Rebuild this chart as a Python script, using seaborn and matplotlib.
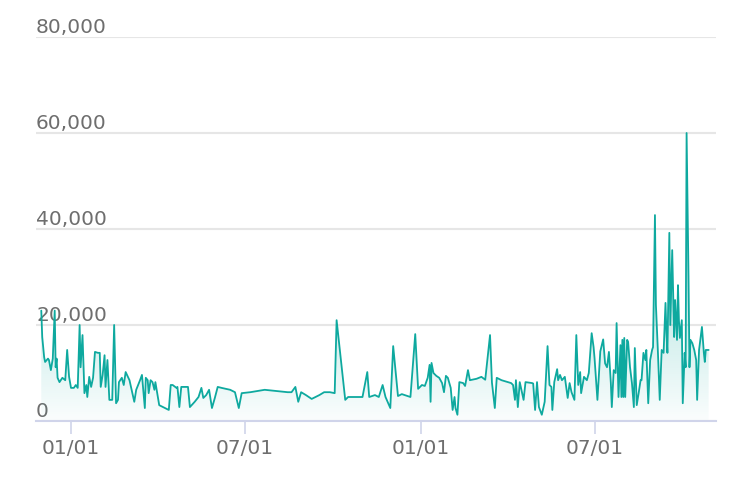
import numpy as np
import pandas as pd
import seaborn as sns
import matplotlib.pyplot as plt
import matplotlib.dates as mdates
from matplotlib.colors import to_rgb
from matplotlib.ticker import FuncFormatter

# daily values
dates = [
    "2020-12-01", "2020-12-02", "2020-12-04", "2020-12-05", "2020-12-08", "2020-12-09",
    "2020-12-11", "2020-12-13", "2020-12-15", "2020-12-16", "2020-12-17", "2020-12-18",
    "2020-12-20", "2020-12-23", "2020-12-26", "2020-12-28", "2020-12-30", "2021-01-01",
    "2021-01-04", "2021-01-06", "2021-01-08", "2021-01-10", "2021-01-11", "2021-01-13",
    "2021-01-15", "2021-01-17", "2021-01-18", "2021-01-20", "2021-01-22", "2021-01-24",
    "2021-01-26", "2021-01-29", "2021-01-31", "2021-02-01", "2021-02-03", "2021-02-05",
    "2021-02-06", "2021-02-08", "2021-02-10", "2021-02-13", "2021-02-15", "2021-02-17",
    "2021-02-19", "2021-02-20", "2021-02-23", "2021-02-25", "2021-02-27", "2021-03-03",
    "2021-03-06", "2021-03-08", "2021-03-10", "2021-03-14", "2021-03-16", "2021-03-19",
    "2021-03-20", "2021-03-22", "2021-03-23", "2021-03-25", "2021-03-27", "2021-03-29",
    "2021-03-30", "2021-04-03", "2021-04-09", "2021-04-13", "2021-04-15", "2021-04-17",
    "2021-04-21", "2021-04-22", "2021-04-24", "2021-04-26", "2021-04-29", "2021-05-03",
    "2021-05-05", "2021-05-10", "2021-05-14", "2021-05-17", "2021-05-19", "2021-05-22",
    "2021-05-25", "2021-05-28", "2021-05-31", "2021-06-03", "2021-06-07", "2021-06-16",
    "2021-06-21", "2021-06-25", "2021-06-28", "2021-07-07", "2021-07-22", "2021-08-15",
    "2021-08-19", "2021-08-23", "2021-08-26", "2021-08-29", "2021-09-03", "2021-09-09",
    "2021-09-17", "2021-09-22", "2021-09-28", "2021-10-03", "2021-10-05", "2021-10-14",
    "2021-10-17", "2021-11-01", "2021-11-06", "2021-11-08", "2021-11-14", "2021-11-18",
    "2021-11-22", "2021-11-25", "2021-11-30", "2021-12-03", "2021-12-08", "2021-12-12",
    "2021-12-21", "2021-12-26", "2021-12-29", "2022-01-02", "2022-01-05", "2022-01-08",
    "2022-01-10", "2022-01-11", "2022-01-12", "2022-01-14", "2022-01-17", "2022-01-20",
    "2022-01-23", "2022-01-25", "2022-01-27", "2022-01-29", "2022-02-01", "2022-02-03",
    "2022-02-05", "2022-02-06", "2022-02-08", "2022-02-10", "2022-02-14", "2022-02-16",
    "2022-02-19", "2022-02-21", "2022-02-28", "2022-03-05", "2022-03-09", "2022-03-14",
    "2022-03-16", "2022-03-19", "2022-03-21", "2022-03-26", "2022-04-05", "2022-04-07",
    "2022-04-09", "2022-04-10", "2022-04-12", "2022-04-14", "2022-04-18", "2022-04-20",
    "2022-04-27", "2022-04-28", "2022-04-30", "2022-05-02", "2022-05-04", "2022-05-07",
    "2022-05-10", "2022-05-13", "2022-05-15", "2022-05-17", "2022-05-18", "2022-05-20",
    "2022-05-23", "2022-05-24", "2022-05-26", "2022-05-28", "2022-05-31", "2022-06-03",
    "2022-06-05", "2022-06-07", "2022-06-10", "2022-06-12", "2022-06-14", "2022-06-16",
    "2022-06-17", "2022-06-20", "2022-06-23", "2022-06-25", "2022-06-28", "2022-06-30",
    "2022-07-01", "2022-07-04", "2022-07-07", "2022-07-10", "2022-07-12", "2022-07-14",
    "2022-07-16", "2022-07-18", "2022-07-19", "2022-07-21", "2022-07-23", "2022-07-24",
    "2022-07-26", "2022-07-28", "2022-07-29", "2022-07-30", "2022-07-31", "2022-08-01",
    "2022-08-02", "2022-08-04", "2022-08-05", "2022-08-07", "2022-08-09", "2022-08-11",
    "2022-08-12", "2022-08-14", "2022-08-16", "2022-08-18", "2022-08-19", "2022-08-21",
    "2022-08-23", "2022-08-24", "2022-08-26", "2022-08-28", "2022-08-30", "2022-08-31",
    "2022-09-02", "2022-09-03", "2022-09-05", "2022-09-07", "2022-09-09", "2022-09-11",
    "2022-09-13", "2022-09-14", "2022-09-15", "2022-09-17", "2022-09-18", "2022-09-20",
    "2022-09-22", "2022-09-23", "2022-09-25", "2022-09-26", "2022-09-27", "2022-09-28",
    "2022-09-30", "2022-10-01", "2022-10-03", "2022-10-04", "2022-10-05", "2022-10-07",
    "2022-10-08", "2022-10-09", "2022-10-11", "2022-10-13", "2022-10-15", "2022-10-16",
    "2022-10-18", "2022-10-21", "2022-10-23", "2022-10-24", "2022-10-25", "2022-10-28",
]
values = [
    23000, 17500, 13300, 12300, 13000, 12700,
    10600, 13000, 23000, 11200, 13000, 9000,
    8100, 9000, 8500, 14800, 9200, 6900,
    6900, 7500, 6900, 20000, 11200, 17900,
    5800, 7500, 5000, 9200, 7100, 9000,
    14400, 14200, 14200, 7100, 9600, 13700,
    7100, 12700, 4400, 4400, 20000, 3700,
    4400, 8100, 9000, 7500, 10200, 8500,
    5800, 4000, 6500, 8500, 9600, 2700,
    9000, 8500, 5800, 8500, 8100, 6500,
    8100, 3300, 2700, 2300, 7500, 7500,
    6900, 7100, 2900, 7100, 7100, 7100,
    2900, 4000, 5000, 6900, 4800, 5400,
    6500, 2700, 4800, 7100, 6900, 6500,
    6000, 2700, 5800, 6000, 6500, 6000,
    6000, 7100, 4000, 6000, 5400, 4600,
    5400, 6000, 6000, 5800, 21000, 4400,
    5000, 5000, 10200, 5000, 5400, 5000,
    7500, 5000, 2700, 15600, 5200, 5600,
    5000, 18100, 6700, 7500, 7300, 9000,
    11700, 4000, 12100, 10000, 9400, 9000,
    7900, 6000, 9400, 9000, 6900, 2300,
    5000, 2700, 1300, 8100, 7900, 7300,
    10600, 8500, 8800, 9200, 8600, 17900,
    8000, 2700, 9000, 8500, 7900, 7500,
    4400, 8500, 2900, 8100, 4400, 8100,
    7900, 7800, 2300, 8100, 2900, 1300,
    4000, 15600, 7500, 7100, 2300, 8100,
    10800, 8500, 9600, 8500, 9200, 4800,
    7900, 6000, 4400, 17900, 7500, 10200,
    5800, 9200, 8500, 10000, 18300, 15400,
    13100, 4400, 14500, 17000, 12000, 11200,
    14400, 7900, 2900, 10600, 10000, 20400,
    5000, 15800, 5000, 16900, 5000, 17300,
    5000, 16900, 16500, 11200, 7900, 2900,
    15200, 3300, 5800, 8500, 8500, 14200,
    12700, 14800, 3700, 12700, 14800, 15400,
    42900, 24200, 14800, 4400, 14800, 14200,
    24600, 18300, 14200, 39200, 20000, 35600,
    17500, 25200, 16900, 28300, 21000, 17300,
    21000, 3700, 14200, 11200, 60000, 30000,
    11200, 16900, 16200, 14800, 12700, 4400,
    14800, 19600, 14200, 12300, 14800, 14800,
]
y_ticks = [0, 20000, 40000, 60000, 80000]
x_ticks = ["2021-01-01", "2021-07-01", "2022-01-01", "2022-07-01"]

df = pd.DataFrame({"date": pd.to_datetime(dates), "value": values})

sns.set_style("white")
plt.rcParams["font.family"] = ["DejaVu Sans"]

teal = "#0ea99f"
axis_col = "#d0d4ea"
text_col = "#6e6e6e"

fig = plt.figure(figsize=(7.4, 4.82), dpi=100)
ax = fig.add_axes([36 / 740, 1 - 421 / 482, 680 / 740, 384 / 482])

sns.lineplot(data=df, x="date", y="value", ax=ax, color=teal, linewidth=1.3, zorder=4)

# gradient area under the line
xn = mdates.date2num(df["date"])
area = ax.fill_between(df["date"], df["value"], 0, facecolor="none", edgecolor="none")
grad = np.zeros((256, 1, 4))
grad[..., :3] = to_rgb(teal)
grad[:, 0, 3] = np.linspace(0.02, 0.55, 256)
img = ax.imshow(grad, extent=[xn.min(), xn.max(), 0, max(values)], origin="lower",
                aspect="auto", zorder=2, interpolation="bilinear")
img.set_clip_path(area.get_paths()[0], transform=ax.transData)

ax.set_xlim(pd.Timestamp("2020-11-25 12:00"), pd.Timestamp("2022-11-04 16:00"))
ax.set_ylim(0, 80000)
ax.set_xlabel("")
ax.set_ylabel("")

ax.set_yticks(y_ticks)
ax.yaxis.set_major_formatter(FuncFormatter(lambda v, p: f"{int(v):,}"))
ax.set_xticks(pd.to_datetime(x_ticks))
ax.xaxis.set_major_formatter(mdates.DateFormatter("%m/%d"))

ax.yaxis.grid(True, color="#e6e6e6", linewidth=1.5, zorder=0)
ax.xaxis.grid(False)
ax.set_axisbelow(True)
for s in ["top", "right", "left"]:
    ax.spines[s].set_visible(False)
ax.spines["bottom"].set_color(axis_col)
ax.spines["bottom"].set_linewidth(1.5)
ax.spines["bottom"].set_zorder(5)

ax.tick_params(axis="x", length=9, width=1.2, color=axis_col, labelsize=14.5,
               labelcolor=text_col, pad=4, bottom=True)
ax.tick_params(axis="y", length=0, pad=0, labelsize=14.5, labelcolor=text_col, left=True)
for lab in ax.get_yticklabels():
    lab.set_horizontalalignment("left")
    lab.set_verticalalignment("bottom")
    lab.set_zorder(3)

fig.savefig("out.png", dpi=100)
